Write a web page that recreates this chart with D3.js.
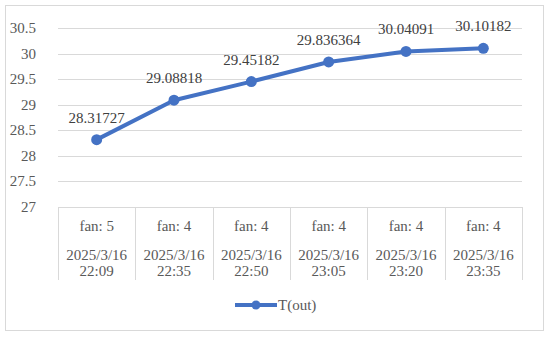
<!DOCTYPE html>
<html>
<head>
<meta charset="utf-8">
<script src="https://cdn.jsdelivr.net/npm/d3@7"></script>
<style>
  body { margin: 0; background: #fff; }
</style>
</head>
<body>
<div id="chart"></div>
<script>
const fanLabels = ['fan: 5', 'fan: 4', 'fan: 4', 'fan: 4', 'fan: 4', 'fan: 4'];
const dateLabels = ['2025/3/16', '2025/3/16', '2025/3/16', '2025/3/16', '2025/3/16', '2025/3/16'];
const timeLabels = ['22:09', '22:35', '22:50', '23:05', '23:20', '23:35'];
const tOut = [28.31727, 29.08818, 29.45182, 29.836364, 30.04091, 30.10182];
const tOutLabels = ['28.31727', '29.08818', '29.45182', '29.836364', '30.04091', '30.10182'];
const yTicks = [27, 27.5, 28, 28.5, 29, 29.5, 30, 30.5];

const width = 550, height = 337;
const margin = {top: 28, right: 28, bottom: 130, left: 58};
const lineColor = '#4472C4';
const serif = '"Liberation Serif"';
// small sizes fall back to a sans face here, so draw big and scale down
const baseSize = 20, k = 0.75;

const svg = d3.select('#chart')
  .append('svg')
  .attr('width', width)
  .attr('height', height);

function label(sel, fx, fy, anchor, color) {
  return sel.append('text')
    .attr('transform', (d, i) => `translate(${fx(d, i)},${fy(d, i)}) scale(${k})`)
    .attr('text-anchor', anchor)
    .style('font-family', serif)
    .style('font-size', baseSize + 'px')
    .style('fill', color);
}

// outer border
svg.append('rect')
  .attr('x', 5.5).attr('y', 5.5)
  .attr('width', 538).attr('height', 325)
  .attr('fill', 'none')
  .attr('stroke', '#d9d9d9');

const x = d3.scaleBand()
  .domain(d3.range(tOut.length))
  .range([margin.left, width - margin.right]);

const y = d3.scaleLinear()
  .domain([27, 30.5])
  .range([height - margin.bottom, margin.top]);

// gridlines
svg.append('g')
  .selectAll('line')
  .data(yTicks)
  .enter()
  .append('line')
  .attr('x1', margin.left)
  .attr('x2', width - margin.right)
  .attr('y1', d => Math.round(y(d)) + 0.5)
  .attr('y2', d => Math.round(y(d)) + 0.5)
  .attr('stroke', '#d9d9d9');

// y tick labels
const tickG = svg.append('g')
  .selectAll('g')
  .data(yTicks)
  .enter()
  .append('g');
label(tickG, () => 36, d => y(d) + 5, 'end', '#595959').text(d => d);

// category dividers
const bounds = d3.range(tOut.length + 1).map(i => i < tOut.length ? x(i) : x.range()[1]);
svg.append('g')
  .selectAll('line')
  .data(bounds)
  .enter()
  .append('line')
  .attr('x1', d => Math.round(d) + 0.5)
  .attr('x2', d => Math.round(d) + 0.5)
  .attr('y1', y(27))
  .attr('y2', 280)
  .attr('stroke', '#d9d9d9');

// category labels
const cat = svg.append('g')
  .selectAll('g')
  .data(d3.range(tOut.length))
  .enter()
  .append('g');

const cx = i => x(i) + x.bandwidth() / 2;
label(cat, cx, () => 231, 'middle', '#595959').text(i => fanLabels[i]);
label(cat, cx, () => 260, 'middle', '#595959').text(i => dateLabels[i]);
label(cat, cx, () => 276, 'middle', '#595959').text(i => timeLabels[i]);

// line
const line = d3.line()
  .x((d, i) => cx(i))
  .y(d => y(d));

svg.append('path')
  .datum(tOut)
  .attr('d', line)
  .attr('fill', 'none')
  .attr('stroke', lineColor)
  .attr('stroke-width', 4)
  .attr('stroke-linejoin', 'round');

svg.append('g')
  .selectAll('circle')
  .data(tOut)
  .enter()
  .append('circle')
  .attr('cx', (d, i) => cx(i))
  .attr('cy', d => y(d))
  .attr('r', 5.5)
  .attr('fill', lineColor);

// data labels
const dl = svg.append('g')
  .selectAll('g')
  .data(tOut)
  .enter()
  .append('g');
label(dl, (d, i) => cx(i), d => y(d) - 17, 'middle', '#404040').text((d, i) => tOutLabels[i]);

// legend
const legend = svg.append('g');
legend.append('line')
  .attr('x1', 235).attr('x2', 277)
  .attr('y1', 305).attr('y2', 305)
  .attr('stroke', lineColor)
  .attr('stroke-width', 4);
legend.append('circle')
  .attr('cx', 256).attr('cy', 305).attr('r', 4.5)
  .attr('fill', lineColor);
label(legend, () => 278, () => 310, 'start', '#595959').text('T(out)');
</script>
</body>
</html>
